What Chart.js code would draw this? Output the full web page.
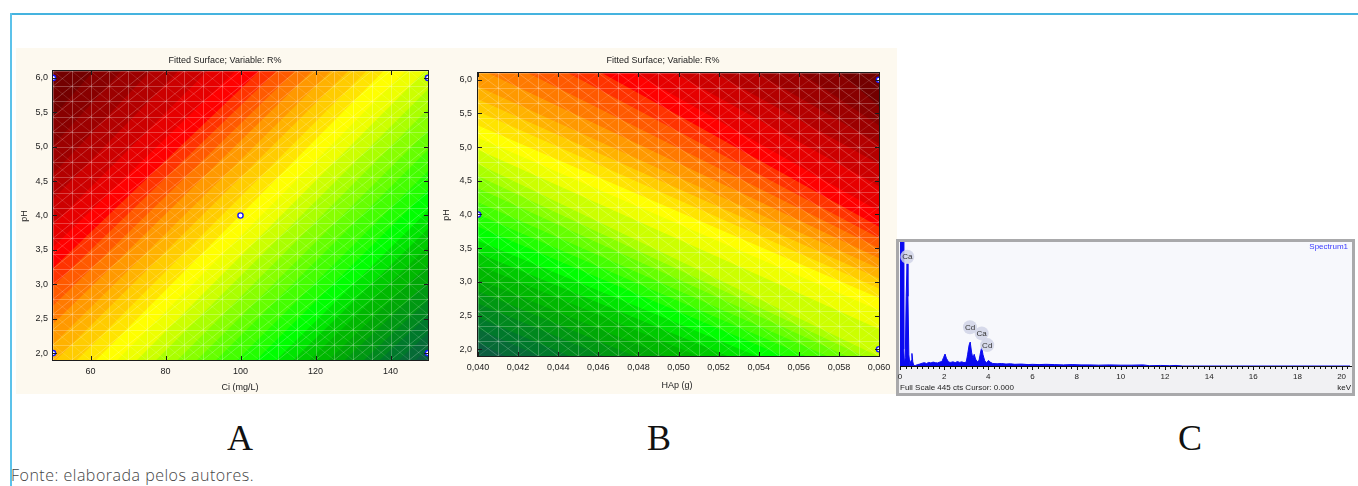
<!DOCTYPE html>
<html><head><meta charset="utf-8">
<script src="https://cdn.jsdelivr.net/npm/chart.js@4.4.1/dist/chart.umd.min.js"></script>
<style>
html,body{margin:0;padding:0;background:#fff;}
body{width:1358px;height:486px;position:relative;overflow:hidden;font-family:"Liberation Sans",Arial,sans-serif;}
.frameTop{position:absolute;left:10px;top:13px;width:1348px;height:0;border-top:2px solid #45b3df;}
.frameLeft{position:absolute;left:10px;top:13px;width:0;height:473px;border-left:2px solid #5cc2ea;}
.cream{position:absolute;left:16px;top:48px;width:881px;height:346px;background:#fdf9ef;}
.specBox{position:absolute;left:896px;top:239px;width:459px;height:157px;box-sizing:border-box;border:3px solid #a9a9ab;background:#f7f8fc;}
.specLow{position:absolute;left:899px;top:367px;width:453px;height:26px;background:#f1f1f3;}
canvas{position:absolute;}
.t{position:absolute;transform:translate(-50%,-50%);white-space:nowrap;line-height:1;color:#222;font-size:9px;font-family:"Liberation Sans",Arial,sans-serif;}
.rot{transform:translate(-50%,-50%) rotate(-90deg);}
.big{font-family:"Liberation Serif","DejaVu Serif",serif;font-size:36px;color:#111;}
.fonte{position:absolute;left:11px;top:466px;font-family:"Open Sans",sans-serif;font-size:16px;letter-spacing:0.5px;font-weight:300;color:#444;line-height:18px;white-space:nowrap;}
.sp{position:absolute;font-size:8px;line-height:1;white-space:nowrap;font-family:"Liberation Sans",Arial,sans-serif;color:#222;}
</style>
</head>
<body>
<div class="frameTop"></div>
<div class="frameLeft"></div>
<div class="cream"></div>
<div class="specBox"></div>
<div class="specLow"></div>

<canvas id="cA" width="419" height="346" style="left:16px;top:48px;"></canvas>
<canvas id="cB" width="462" height="346" style="left:435px;top:48px;"></canvas>
<canvas id="cC" width="459" height="151" style="left:896px;top:242px;"></canvas>

<div class="t" style="left:225px;top:60px;">Fitted Surface; Variable: R%</div>
<div class="t" style="left:663px;top:60px;">Fitted Surface; Variable: R%</div>
<div class="t" style="left:240px;top:387px;">Ci (mg/L)</div>
<div class="t" style="left:677px;top:385px;">HAp (g)</div>
<div class="t rot" style="left:24px;top:216px;">pH</div>
<div class="t rot" style="left:446px;top:215px;">pH</div>

<div class="sp" style="right:10px;top:243px;color:#3a3aff;">Spectrum1</div>
<div class="sp" style="left:900px;top:384px;">Full Scale 445 cts Cursor: 0.000</div>
<div class="sp" style="right:7px;top:384px;">keV</div>

<div class="t big" style="left:240px;top:438px;">A</div>
<div class="t big" style="left:659px;top:438px;">B</div>
<div class="t big" style="left:1190px;top:438px;">C</div>
<div class="fonte">Fonte: elaborada pelos autores.</div>

<script>
// ---------- DATA ----------
const levelColors = ['#0c5e40','#066b36','#00792b','#00881e','#009812','#00a806','#00b800','#00ca00','#00e400','#00ff00',
  '#22ff00','#44ff00','#66ff00','#88ff00','#aaff00','#ccff00','#eeff00','#ffff00','#ffe400','#ffcc00',
  '#ffb200','#ff9900','#ff7a00','#ff5a00','#ff3300','#ff0000','#e60000','#cc0000','#b30000','#9c0000','#880000','#730000'];

// Panel A (Ci vs pH): contour boundaries, Ci where each band boundary meets pH 1.9 and pH 6.1
const aCiTicks = [60, 80, 100, 120, 140];
const aPhTicks = [2.0, 2.5, 3.0, 3.5, 4.0, 4.5, 5.0, 5.5, 6.0];
const aBoundCiAtPhLow  = [146.7,142.2,137.1,132.9,127.8,123.5,118.4,114.1,109.5,104.2,99.1,93.5,88.4,83.2,77.5,72.4,67.1,61.5,56.4,50.8,45.8,40.2,35.1,29.6,24.4,18.9,13.8,8.2,3.1,-2.4,-7.6];
const aBoundCiAtPhHigh = [231.8,226.1,220.9,215.2,209.9,204.1,198.9,193.2,187.9,182.1,176.9,171.2,165.9,160.1,154.9,149.2,143.9,138.2,133.6,128.7,124.1,119.1,114.5,109.6,105.0,98.6,91.2,83.4,76.0,68.2,60.8];
const aDesignCi = [50, 50, 100, 150, 150];
const aDesignPh = [2.0, 6.0, 4.0, 6.0, 2.0];

// Panel B (HAp vs pH): pH where each band boundary meets HAp 0.040 and HAp 0.060
const bHApTicks = [0.040,0.042,0.044,0.046,0.048,0.050,0.052,0.054,0.056,0.058,0.060];
const bPhTicks = [2.0, 2.5, 3.0, 3.5, 4.0, 4.5, 5.0, 5.5, 6.0];
const bBoundPhAtHApLow  = [2.10,2.30,2.47,2.68,2.86,3.04,3.25,3.43,3.61,3.82,4.00,4.18,4.39,4.57,4.75,4.96,5.14,5.32,5.53,5.71,5.90,6.17,6.47,6.81,7.12,7.41,7.71,8.04,8.49,9.32,10.86];
const bBoundPhAtHApHigh = [-0.86,-0.31,-0.04,0.19,0.40,0.60,0.79,0.97,1.15,1.30,1.43,1.56,1.68,1.79,1.89,2.30,2.58,2.76,2.90,3.05,3.20,3.35,3.50,3.65,3.82,4.05,4.42,4.75,5.05,5.32,5.60];
const bDesignHAp = [0.040, 0.060, 0.060];
const bDesignPh  = [4.0, 6.0, 2.0];

// Panel C (EDS spectrum)
const cEnergy = [0.00,0.05,0.10,0.14,0.17,0.20,0.24,0.28,0.32,0.36,0.40,0.45,0.50,0.54,0.58,0.62,0.70,0.80,0.90,1.00,1.10,1.20,1.30,1.40,1.50,1.60,1.70,1.80,1.90,1.97,2.04,2.10,2.20,2.30,2.40,2.50,2.60,2.70,2.80,2.90,3.00,3.06,3.13,3.18,3.24,3.30,3.36,3.42,3.50,3.58,3.65,3.70,3.76,3.84,3.92,4.01,4.08,4.20,4.40,4.60,4.80,5.00,5.20,5.50,5.80,6.00,6.30,6.60,7.00,7.40,7.80,8.20,8.60,9.00,9.50,10.00,10.50,11.00,11.30,11.80,12.20,12.50,12.80,20.38];
const cCounts = [520,520,520,480,60,10,30,250,367,250,40,5,20,45,15,2,2,5,7,10,12,9,13,11,14,12,11,14,16,30,43,28,14,13,15,12,16,13,15,12,14,40,75,86,50,28,42,25,15,20,50,67,40,18,12,20,14,9,8,9,7,8,6,7,5,6,5,6,5,4,5,4,4,3,4,3,3,4,1,2,1,2,0,0];
const cTicks = [0,2,4,6,8,10,12,14,16,18,20];
const cPeakNames = ['Ca','Cd','Ca','Cd'];
const cPeakKeV = [0.33, 3.17, 3.70, 3.95];
const cPeakCts = [392, 139, 117, 75];

// ---------- RENDER ----------
const FONT = '"Liberation Sans", Arial, sans-serif';
Chart.defaults.font.family = FONT;
const phFmt = v => Number(v).toFixed(1).replace('.', ',');

function makeSurfacePlugin(cfg){
  return {
    id:'surface',
    beforeDatasetsDraw(chart){
      const {ctx, chartArea:a, scales:{x, y}} = chart;
      ctx.save();
      ctx.beginPath(); ctx.rect(a.left, a.top, a.right-a.left, a.bottom-a.top); ctx.clip();
      ctx.fillStyle = levelColors[0];
      ctx.fillRect(a.left, a.top, a.right-a.left, a.bottom-a.top);
      const n = cfg.lo.length;
      for (let k=0; k<n; k++){
        ctx.fillStyle = levelColors[k+1];
        ctx.beginPath();
        if (cfg.mode === 'A'){
          const x1 = x.getPixelForValue(cfg.lo[k]), y1 = y.getPixelForValue(y.min);
          const x2 = x.getPixelForValue(cfg.hi[k]), y2 = y.getPixelForValue(y.max);
          const yb = a.bottom+60, yt = a.top-60;
          const xb = x1 + (x2-x1)*(yb-y1)/(y2-y1);
          const xt = x1 + (x2-x1)*(yt-y1)/(y2-y1);
          ctx.moveTo(xb, yb); ctx.lineTo(xt, yt); ctx.lineTo(a.left-5000, yt); ctx.lineTo(a.left-5000, yb);
        } else {
          const x1 = x.getPixelForValue(x.min), y1 = y.getPixelForValue(cfg.lo[k]);
          const x2 = x.getPixelForValue(x.max), y2 = y.getPixelForValue(cfg.hi[k]);
          const xl = a.left-60, xr = a.right+60;
          const yl = y1 + (y2-y1)*(xl-x1)/(x2-x1);
          const yr = y1 + (y2-y1)*(xr-x1)/(x2-x1);
          ctx.moveTo(xl, yl); ctx.lineTo(xr, yr); ctx.lineTo(xr, a.top-5000); ctx.lineTo(xl, a.top-5000);
        }
        ctx.closePath(); ctx.fill();
      }
      const nx = 20, ny = 19;
      const X = [], Y = [];
      for (let i=0;i<=nx;i++) X.push(x.getPixelForValue(x.min + (x.max-x.min)*i/nx));
      for (let j=0;j<=ny;j++) Y.push(y.getPixelForValue(y.min + (y.max-y.min)*j/ny));
      ctx.lineWidth = 1;
      ctx.strokeStyle = 'rgba(255,255,255,0.26)';
      ctx.beginPath();
      X.forEach(v=>{ const p=Math.round(v)+0.5; ctx.moveTo(p,a.top); ctx.lineTo(p,a.bottom); });
      Y.forEach(v=>{ const p=Math.round(v)+0.5; ctx.moveTo(a.left,p); ctx.lineTo(a.right,p); });
      ctx.stroke();
      const d1 = cfg.mode==='A' ? 0.22 : 0.13, d2 = cfg.mode==='A' ? 0.13 : 0.22;
      ctx.strokeStyle = 'rgba(255,255,255,'+d1+')';
      ctx.beginPath();
      for (let i=0;i<nx;i++) for (let j=0;j<ny;j++){ ctx.moveTo(X[i],Y[j]); ctx.lineTo(X[i+1],Y[j+1]); }
      ctx.stroke();
      ctx.strokeStyle = 'rgba(255,255,255,'+d2+')';
      ctx.beginPath();
      for (let i=0;i<nx;i++) for (let j=0;j<ny;j++){ ctx.moveTo(X[i],Y[j+1]); ctx.lineTo(X[i+1],Y[j]); }
      ctx.stroke();
      ctx.restore();
    },
    afterDatasetsDraw(chart){
      const {ctx, chartArea:a, scales:{x, y}} = chart;
      ctx.save();
      ctx.strokeStyle = '#1c1c1c'; ctx.lineWidth = 1;
      ctx.strokeRect(a.left-0.5, a.top-0.5, a.right-a.left+1, a.bottom-a.top+1);
      ctx.beginPath();
      cfg.xTicks.forEach(v=>{ const p=Math.round(x.getPixelForValue(v))+0.5;
        ctx.moveTo(p,a.bottom); ctx.lineTo(p,a.bottom-4); ctx.moveTo(p,a.top); ctx.lineTo(p,a.top+4); });
      cfg.yTicks.forEach(v=>{ const p=Math.round(y.getPixelForValue(v))+0.5;
        ctx.moveTo(a.left,p); ctx.lineTo(a.left+4,p); ctx.moveTo(a.right,p); ctx.lineTo(a.right-4,p); });
      ctx.stroke();
      ctx.restore();
    }
  };
}

function surfaceChart(id, o){
  const pts = o.px.map((v,i)=>({x:v, y:o.py[i]}));
  return new Chart(document.getElementById(id), {
    type:'scatter',
    data:{datasets:[{data:pts, pointRadius:2.6, pointHoverRadius:2.6, pointBorderWidth:1.4,
      borderColor:'#1616ff', backgroundColor:'#ffffff', clip:0}]},
    options:{
      responsive:false, animation:false, events:[],
      layout:{padding:o.pad},
      plugins:{legend:{display:false}, tooltip:{enabled:false}, title:{display:false}},
      scales:{
        x:{type:'linear', min:o.xMin, max:o.xMax,
          afterBuildTicks:s=>{ s.ticks = o.xTicks.map(v=>({value:v})); },
          ticks:{callback:v=>o.xFmt(v), font:{size:9}, color:'#222', padding:o.xPad, maxRotation:0, minRotation:0, autoSkip:false},
          grid:{display:false, drawTicks:false}, border:{display:false},
          afterFit:s=>{ s.height=o.xH; s.paddingLeft=0; s.paddingRight=0; }},
        y:{type:'linear', min:1.9, max:6.1,
          afterBuildTicks:s=>{ s.ticks = o.yTicks.map(v=>({value:v})); },
          ticks:{callback:v=>phFmt(v), font:{size:9}, color:'#222', padding:o.yPad, autoSkip:false},
          grid:{display:false, drawTicks:false}, border:{display:false},
          afterFit:s=>{ s.width=o.yW; s.paddingTop=0; s.paddingBottom=0; }}
      }
    },
    plugins:[makeSurfacePlugin({mode:o.mode, lo:o.lo, hi:o.hi, xTicks:o.xTicks, yTicks:o.yTicks})]
  });
}

surfaceChart('cA', {mode:'A', xMin:50, xMax:150, xTicks:aCiTicks, yTicks:aPhTicks,
  xFmt:v=>String(Math.round(v)), lo:aBoundCiAtPhLow, hi:aBoundCiAtPhHigh,
  px:aDesignCi, py:aDesignPh, pad:{left:0, right:7, top:23, bottom:0}, xH:34, yW:37, xPad:6, yPad:5});

surfaceChart('cB', {mode:'B', xMin:0.040, xMax:0.060, xTicks:bHApTicks, yTicks:bPhTicks,
  xFmt:v=>Number(v).toFixed(3).replace('.', ','), lo:bBoundPhAtHApLow, hi:bBoundPhAtHApHigh,
  px:bDesignHAp, py:bDesignPh, pad:{left:0, right:18, top:25, bottom:0}, xH:38, yW:43, xPad:6, yPad:6});

const specPlugin = {
  id:'spec',
  afterDatasetsDraw(chart){
    const {ctx, chartArea:a, scales:{x, y}} = chart;
    ctx.save();
    ctx.strokeStyle = '#111'; ctx.lineWidth = 1;
    ctx.beginPath();
    ctx.moveTo(a.left, a.bottom+0.5); ctx.lineTo(a.right+2, a.bottom+0.5);
    for (let i=0; i<=81; i++){
      const e = i*0.25;
      const p = Math.round(x.getPixelForValue(e))+0.5;
      ctx.moveTo(p, a.bottom); ctx.lineTo(p, a.bottom + (i%8===0 ? 4 : 3));
    }
    ctx.stroke();
    ctx.font = '8px ' + FONT; ctx.textAlign = 'center'; ctx.textBaseline = 'middle';
    cPeakNames.forEach((n,i)=>{
      const X = x.getPixelForValue(cPeakKeV[i]), Y = y.getPixelForValue(cPeakCts[i]);
      ctx.fillStyle = 'rgba(208,212,230,0.85)';
      ctx.beginPath(); ctx.arc(X, Y, 7, 0, Math.PI*2); ctx.fill();
      ctx.fillStyle = '#333'; ctx.fillText(n, X, Y+0.5);
    });
    ctx.restore();
  }
};

new Chart(document.getElementById('cC'), {
  type:'scatter',
  data:{datasets:[{data:cEnergy.map((e,i)=>({x:e, y:cCounts[i]})), showLine:true, fill:'origin',
    borderColor:'#0a0af0', backgroundColor:'#0a0af0', borderWidth:1, pointRadius:0, tension:0, clip:0}]},
  options:{
    responsive:false, animation:false, events:[],
    layout:{padding:{left:4, right:5, top:0, bottom:0}},
    plugins:{legend:{display:false}, tooltip:{enabled:false}},
    scales:{
      x:{type:'linear', min:0, max:20.38,
        afterBuildTicks:s=>{ s.ticks = cTicks.map(v=>({value:v})); },
        ticks:{callback:v=>String(v), font:{size:8}, color:'#222', padding:6, maxRotation:0, autoSkip:false},
        grid:{display:false, drawTicks:false}, border:{display:false},
        afterFit:s=>{ s.height=27; s.paddingLeft=0; s.paddingRight=0; }},
      y:{type:'linear', display:false, min:0, max:445}
    }
  },
  plugins:[specPlugin]
});
</script>
</body></html>
